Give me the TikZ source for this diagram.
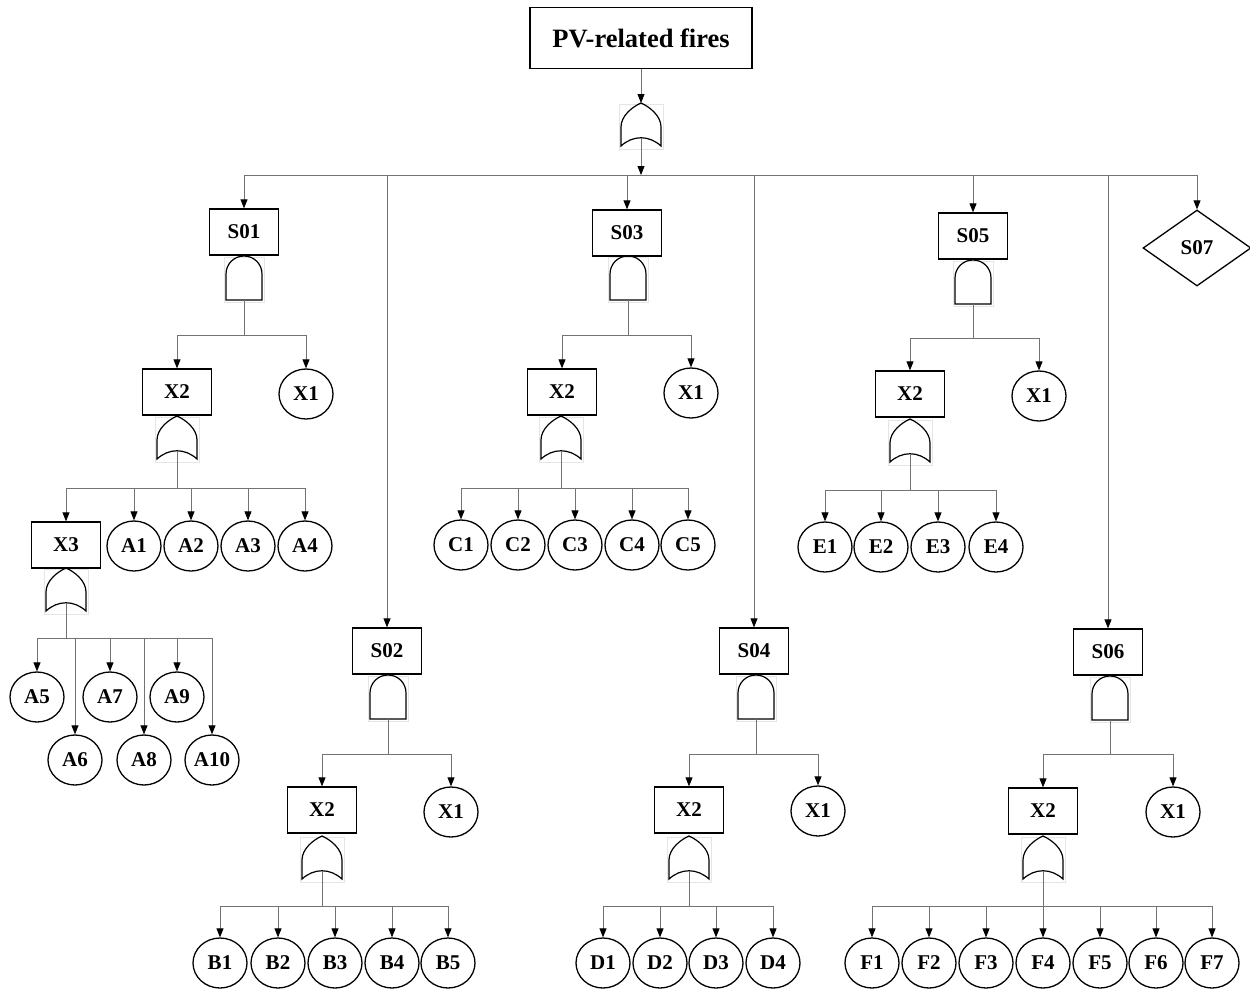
\documentclass[tikz,border=0pt]{standalone}
\usepackage{fontspec}
\setmainfont{Liberation Serif}
\usetikzlibrary{arrows.meta,shapes.geometric}
\tikzset{
  shp/.style={draw=black,line width=1.3pt},
  evt/.style={shp,rectangle,minimum width=69pt,minimum height=46pt,inner sep=0pt,font=\fontsize{21}{23}\selectfont\bfseries},
  basic/.style={shp,ellipse,minimum width=54pt,minimum height=50pt,inner sep=0pt,font=\fontsize{21}{23}\selectfont\bfseries},
  undev/.style={shp,diamond,minimum width=108pt,minimum height=76pt,inner sep=0pt,font=\fontsize{21}{23}\selectfont\bfseries},
  topevt/.style={shp,rectangle,minimum width=222pt,minimum height=61pt,inner sep=0pt,font=\fontsize{26.5}{28}\selectfont\bfseries},
  conn/.style={draw=black!55,line width=0.8pt},
  arr/.style={-{Triangle[length=9pt,width=7pt,color=black]}},
  gbox/.style={draw=black!10,line width=0.5pt},
  orgate/.pic={
    \draw[gbox] (-22,-21) rectangle (22,24);
    \draw[shp,line width=1.2pt] (-20,21) -- (-20,2) .. controls (-20,-9) and (-9,-18) .. (0,-22)
      .. controls (9,-18) and (20,-9) .. (20,2) -- (20,21)
      .. controls (8,10) and (-8,10) .. (-20,21) -- cycle;
    \coordinate (-in) at (0,-22);
    \coordinate (-out) at (0,13);
  },
  andgate/.pic={
    \draw[gbox] (-20,-21) rectangle (20,24);
    \draw[shp,line width=1.2pt] (-18,22) -- (-18,-4) .. controls (-18,-14) and (-10,-22) .. (0,-22)
      .. controls (10,-22) and (18,-14) .. (18,-4) -- (18,22) -- cycle;
    \coordinate (-in) at (0,-22);
    \coordinate (-out) at (0,22);
  }
}
\begin{document}
\begin{tikzpicture}[x=1pt,y=-1pt]
\useasboundingbox (0,0) rectangle (1250,991);
\fill[white] (0,0) rectangle (1250,991);

% gates first (so boxes sit on top)
\pic (g0) at (641,125) {orgate};
\pic (gs1) at (244,278) {andgate};
\pic (gx2a) at (177,438) {orgate};
\pic (gx3) at (66,590) {orgate};
\pic (gs2) at (388,697) {andgate};
\pic (gx2b) at (322,858) {orgate};
\pic (gs3) at (628,278) {andgate};
\pic (gx2c) at (561,438) {orgate};
\pic (gs4) at (756,697) {andgate};
\pic (gx2d) at (689,858) {orgate};
\pic (gs5) at (973,282) {andgate};
\pic (gx2e) at (910,441) {orgate};
\pic (gs6) at (1110,698) {andgate};
\pic (gx2f) at (1043,858) {orgate};

% top
\node[topevt] (pv) at (641,38) {PV-related fires};
\coordinate (b0) at (641,175);
\draw[conn,arr] (pv.south) -- (g0-in);
\draw[conn,arr] (g0-out) -- (b0);

\node[evt] (s01) at (244,232) {S01};
\node[evt] (s02) at (387,651) {S02};
\node[evt] (s03) at (627,233) {S03};
\node[evt] (s04) at (754,651) {S04};
\node[evt] (s05) at (973,236) {S05};
\node[evt] (s06) at (1108,652) {S06};
\node[undev] (s07) at (1197,248) {S07};
\foreach \n in {s01,s02,s03,s04,s05,s06,s07}
  \draw[conn,arr] (b0) -| (\n.north);

% ---------- S01 ----------
\coordinate (bs1) at (244,335);
\draw[conn] (gs1-out) -- (bs1);
\node[evt] (x2a) at (177,392) {X2};
\node[basic] (x1a) at (306,394) {X1};
\draw[conn,arr] (bs1) -| (x2a.north);
\draw[conn,arr] (bs1) -| (x1a.north);
\coordinate (bx2a) at (177,488);
\draw[conn] (gx2a-out) -- (bx2a);
\node[evt] (x3) at (66,545) {X3};
\draw[conn,arr] (bx2a) -| (x3.north);
\foreach \i/\x in {1/134,2/191,3/248,4/305}{
  \node[basic] (a\i) at (\x,546) {A\i};
  \draw[conn,arr] (bx2a) -| (a\i.north);
}
\coordinate (bx3) at (66,638);
\draw[conn] (gx3-out) -- (bx3);
\foreach \i/\x/\y in {5/37/697,6/75/760,7/110/697,8/144/760,9/177/697,10/212/760}{
  \node[basic] (a\i) at (\x,\y) {A\i};
  \draw[conn,arr] (bx3) -| (a\i.north);
}

% ---------- S02 ----------
\coordinate (bs2) at (388,754);
\draw[conn] (gs2-out) -- (bs2);
\node[evt] (x2b) at (322,810) {X2};
\node[basic] (x1b) at (451,812) {X1};
\draw[conn,arr] (bs2) -| (x2b.north);
\draw[conn,arr] (bs2) -| (x1b.north);
\coordinate (bx2b) at (322,906);
\draw[conn] (gx2b-out) -- (bx2b);
\foreach \i/\x in {1/220,2/278,3/335,4/392,5/448}{
  \node[basic] (b\i) at (\x,963) {B\i};
  \draw[conn,arr] (bx2b) -| (b\i.north);
}

% ---------- S03 ----------
\coordinate (bs3) at (628,335);
\draw[conn] (gs3-out) -- (bs3);
\node[evt] (x2c) at (562,392) {X2};
\node[basic] (x1c) at (691,393) {X1};
\draw[conn,arr] (bs3) -| (x2c.north);
\draw[conn,arr] (bs3) -| (x1c.north);
\coordinate (bx2c) at (561,488);
\draw[conn] (gx2c-out) -- (bx2c);
\foreach \i/\x in {1/461,2/518,3/575,4/632,5/688}{
  \node[basic] (c\i) at (\x,545) {C\i};
  \draw[conn,arr] (bx2c) -| (c\i.north);
}

% ---------- S04 ----------
\coordinate (bs4) at (756,754);
\draw[conn] (gs4-out) -- (bs4);
\node[evt] (x2d) at (689,810) {X2};
\node[basic] (x1d) at (818,811) {X1};
\draw[conn,arr] (bs4) -| (x2d.north);
\draw[conn,arr] (bs4) -| (x1d.north);
\coordinate (bx2d) at (689,906);
\draw[conn] (gx2d-out) -- (bx2d);
\foreach \i/\x in {1/603,2/660,3/716,4/773}{
  \node[basic] (d\i) at (\x,963) {D\i};
  \draw[conn,arr] (bx2d) -| (d\i.north);
}

% ---------- S05 ----------
\coordinate (bs5) at (973,338);
\draw[conn] (gs5-out) -- (bs5);
\node[evt] (x2e) at (910,394) {X2};
\node[basic] (x1e) at (1039,396) {X1};
\draw[conn,arr] (bs5) -| (x2e.north);
\draw[conn,arr] (bs5) -| (x1e.north);
\coordinate (bx2e) at (910,490);
\draw[conn] (gx2e-out) -- (bx2e);
\foreach \i/\x in {1/825,2/881,3/938,4/996}{
  \node[basic] (e\i) at (\x,547) {E\i};
  \draw[conn,arr] (bx2e) -| (e\i.north);
}

% ---------- S06 ----------
\coordinate (bs6) at (1110,754);
\draw[conn] (gs6-out) -- (bs6);
\node[evt] (x2f) at (1043,811) {X2};
\node[basic] (x1f) at (1173,812) {X1};
\draw[conn,arr] (bs6) -| (x2f.north);
\draw[conn,arr] (bs6) -| (x1f.north);
\coordinate (bx2f) at (1043,906);
\draw[conn] (gx2f-out) -- (bx2f);
\foreach \i/\x in {1/872,2/929,3/986,4/1043,5/1100,6/1156,7/1212}{
  \node[basic] (f\i) at (\x,963) {F\i};
  \draw[conn,arr] (bx2f) -| (f\i.north);
}
\end{tikzpicture}
\end{document}
